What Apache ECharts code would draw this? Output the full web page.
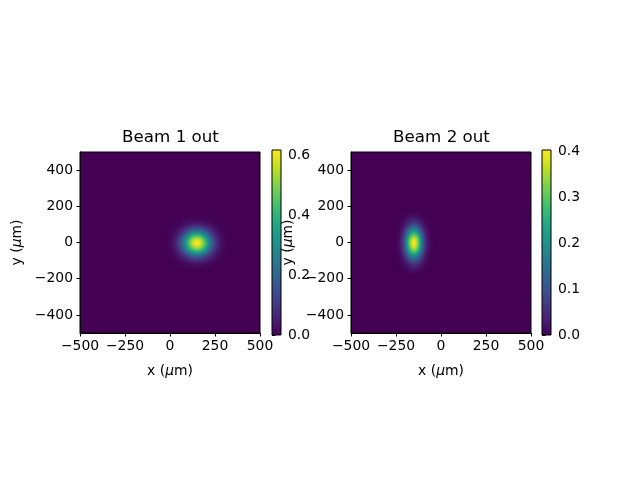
<!DOCTYPE html>
<html>
<head>
<meta charset="utf-8">
<script src="https://cdn.jsdelivr.net/npm/echarts@6/dist/echarts.min.js"></script>
<style>
  html, body { margin: 0; padding: 0; background: #fff; }
  #beam_chart { width: 640px; height: 480px; }
</style>
</head>
<body>
<div id="beam_chart"></div>
<script>
// tick labels
const xTicks = [-500, -250, 0, 250, 500];
const yTicks = [-400, -200, 0, 200, 400];
const cbar1Ticks = [0, 0.2, 0.4, 0.6];
const cbar2Ticks = [0, 0.1, 0.2, 0.3, 0.4];

// beam 1 (peak and profiles, um)
const beam1Peak = 0.617;
const beam1X = [-10, 0, 10, 20, 30, 40, 50, 60, 70, 80, 90, 100, 110, 120, 130, 140, 150,
  160, 170, 180, 190, 200, 210, 220, 230, 240, 250, 260, 270, 280, 290, 300, 310];
const beam1XProfile = [0.014, 0.024, 0.039, 0.061, 0.093, 0.135, 0.192, 0.262, 0.348, 0.445, 0.551, 0.662, 0.768, 0.862, 0.936, 0.984, 1,
  0.984, 0.936, 0.862, 0.768, 0.662, 0.551, 0.445, 0.348, 0.262, 0.192, 0.135, 0.093, 0.061, 0.039, 0.024, 0.014];
const beam1Y = [-140, -130, -120, -110, -100, -90, -80, -70, -60, -50, -40, -30, -20, -10, 0,
  10, 20, 30, 40, 50, 60, 70, 80, 90, 100, 110, 120, 130, 140];
const beam1YProfile = [0.014, 0.026, 0.044, 0.072, 0.114, 0.172, 0.249, 0.345, 0.458, 0.581, 0.707, 0.823, 0.917, 0.979, 1,
  0.979, 0.917, 0.823, 0.707, 0.581, 0.458, 0.345, 0.249, 0.172, 0.114, 0.072, 0.044, 0.026, 0.014];

// beam 2
const beam2Peak = 0.402;
const beam2X = [-250, -240, -230, -220, -210, -200, -190, -180, -170, -160, -150,
  -140, -130, -120, -110, -100, -90, -80, -70, -60, -50];
const beam2XProfile = [0.010, 0.024, 0.053, 0.105, 0.191, 0.317, 0.480, 0.662, 0.832, 0.955, 1,
  0.955, 0.832, 0.662, 0.480, 0.317, 0.191, 0.105, 0.053, 0.024, 0.010];
const beam2Y = [-160, -150, -140, -130, -120, -110, -100, -90, -80, -70, -60, -50, -40, -30, -20, -10, 0,
  10, 20, 30, 40, 50, 60, 70, 80, 90, 100, 110, 120, 130, 140, 150, 160];
const beam2YProfile = [0.029, 0.044, 0.066, 0.096, 0.135, 0.186, 0.249, 0.325, 0.411, 0.506, 0.607, 0.707, 0.801, 0.882, 0.946, 0.986, 1,
  0.986, 0.946, 0.882, 0.801, 0.707, 0.607, 0.506, 0.411, 0.325, 0.249, 0.186, 0.135, 0.096, 0.066, 0.044, 0.029];

const viridis = ['#440154', '#482475', '#414487', '#355f8d', '#2a788e', '#21918c',
  '#22a884', '#44bf70', '#7ad151', '#bddf26', '#fde725'];
const FONT = 'DejaVu Sans';
const CELL = 10;

function buildCells(xs, xp, ys, yp, peak) {
  let out = [];
  for (let i = 0; i < xs.length; i++) {
    for (let j = 0; j < ys.length; j++) {
      out.push([xs[i], ys[j], peak * xp[i] * yp[j]]);
    }
  }
  return out;
}

function renderCell(params, api) {
  let x = api.value(0), y = api.value(1);
  let p0 = api.coord([x - CELL / 2, y + CELL / 2]);
  let p1 = api.coord([x + CELL / 2, y - CELL / 2]);
  return {
    type: 'rect',
    shape: {x: p0[0], y: p0[1], width: p1[0] - p0[0] + 0.6, height: p1[1] - p0[1] + 0.6},
    style: {fill: api.visual('color')}
  };
}

function renderBar(params, api) {
  let p0 = api.coord([0, api.value(1)]);
  let p1 = api.coord([1, 0]);
  let stops = viridis.map((c, i) => ({offset: i / (viridis.length - 1), color: c}));
  return {
    type: 'rect',
    shape: {x: p0[0], y: p0[1], width: p1[0] - p0[0], height: p1[1] - p0[1]},
    style: {fill: new echarts.graphic.LinearGradient(0, 1, 0, 0, stops), stroke: '#000', lineWidth: 1}
  };
}

const minus = v => (v < 0 ? '\u2212' : '') + Math.abs(v);
const tickText = {color: '#000', fontSize: 13.9, fontFamily: FONT};
const nameStyle = {color: '#000', fontSize: 13.9, fontFamily: FONT,
  rich: {i: {fontStyle: 'italic', fontSize: 13.9, fontFamily: FONT, color: '#000'}}};

function mainX(gi) {
  return {
    gridIndex: gi, type: 'value', min: -500, max: 500, interval: 250,
    axisLine: {show: true, onZero: false, lineStyle: {color: '#000', width: 1}},
    axisTick: {show: true, length: 3.5, lineStyle: {color: '#000'}},
    axisLabel: Object.assign({margin: 6, formatter: minus}, tickText),
    splitLine: {show: false},
    name: 'x ({i|\u03bc}m)', nameLocation: 'middle', nameGap: 31, nameTextStyle: nameStyle
  };
}
function mainY(gi) {
  return {
    gridIndex: gi, type: 'value', min: -500, max: 500,
    axisLine: {show: true, onZero: false, lineStyle: {color: '#000', width: 1}},
    axisTick: {show: true, length: 3.5, customValues: yTicks, lineStyle: {color: '#000'}},
    axisLabel: Object.assign({margin: 7, customValues: yTicks, formatter: minus}, tickText),
    splitLine: {show: false},
    name: 'y ({i|\u03bc}m)', nameLocation: 'middle', nameGap: 56, nameTextStyle: nameStyle
  };
}
function barX(gi) {
  return {gridIndex: gi, type: 'value', min: 0, max: 1, show: false};
}
function barY(gi, peak, ticks) {
  return {
    gridIndex: gi, type: 'value', position: 'right', min: 0, max: peak,
    axisLine: {show: false},
    axisTick: {show: true, length: 3.5, customValues: ticks, lineStyle: {color: '#000'}},
    axisLabel: Object.assign({margin: 7, customValues: ticks, formatter: v => v.toFixed(1)}, tickText),
    splitLine: {show: false}
  };
}

let myChart = echarts.init(document.getElementById('beam_chart'), null, {renderer: 'canvas'});
myChart.setOption({
  animation: false,
  backgroundColor: '#fff',
  graphic: [
    {type: 'text', x: 170.5, y: 138, style: {text: 'Beam 1 out', font: '16.7px "DejaVu Sans"', fill: '#000', align: 'center', verticalAlign: 'middle'}},
    {type: 'text', x: 441.5, y: 138, style: {text: 'Beam 2 out', font: '16.7px "DejaVu Sans"', fill: '#000', align: 'center', verticalAlign: 'middle'}}
  ],
  grid: [
    {left: 80, top: 152, width: 180, height: 181, show: true, backgroundColor: '#440154', borderColor: '#000', borderWidth: 1},
    {left: 272, top: 150, width: 9, height: 185, show: false},
    {left: 351, top: 152, width: 180, height: 181, show: true, backgroundColor: '#440154', borderColor: '#000', borderWidth: 1},
    {left: 542, top: 150, width: 9, height: 185, show: false}
  ],
  xAxis: [mainX(0), barX(1), mainX(2), barX(3)],
  yAxis: [mainY(0), barY(1, beam1Peak, cbar1Ticks), mainY(2), barY(3, beam2Peak, cbar2Ticks)],
  visualMap: [
    {type: 'continuous', show: false, seriesIndex: 0, dimension: 2, min: 0, max: beam1Peak, inRange: {color: viridis}},
    {type: 'continuous', show: false, seriesIndex: 2, dimension: 2, min: 0, max: beam2Peak, inRange: {color: viridis}}
  ],
  series: [
    {
      type: 'custom', xAxisIndex: 0, yAxisIndex: 0, silent: true, clip: true,
      dimensions: ['x', 'y', 'v'], encode: {x: 0, y: 1},
      renderItem: renderCell,
      data: buildCells(beam1X, beam1XProfile, beam1Y, beam1YProfile, beam1Peak)
    },
    {
      type: 'custom', xAxisIndex: 1, yAxisIndex: 1, silent: true,
      renderItem: renderBar, data: [[0, beam1Peak]]
    },
    {
      type: 'custom', xAxisIndex: 2, yAxisIndex: 2, silent: true, clip: true,
      dimensions: ['x', 'y', 'v'], encode: {x: 0, y: 1},
      renderItem: renderCell,
      data: buildCells(beam2X, beam2XProfile, beam2Y, beam2YProfile, beam2Peak)
    },
    {
      type: 'custom', xAxisIndex: 3, yAxisIndex: 3, silent: true,
      renderItem: renderBar, data: [[0, beam2Peak]]
    }
  ]
});
</script>
</body>
</html>
